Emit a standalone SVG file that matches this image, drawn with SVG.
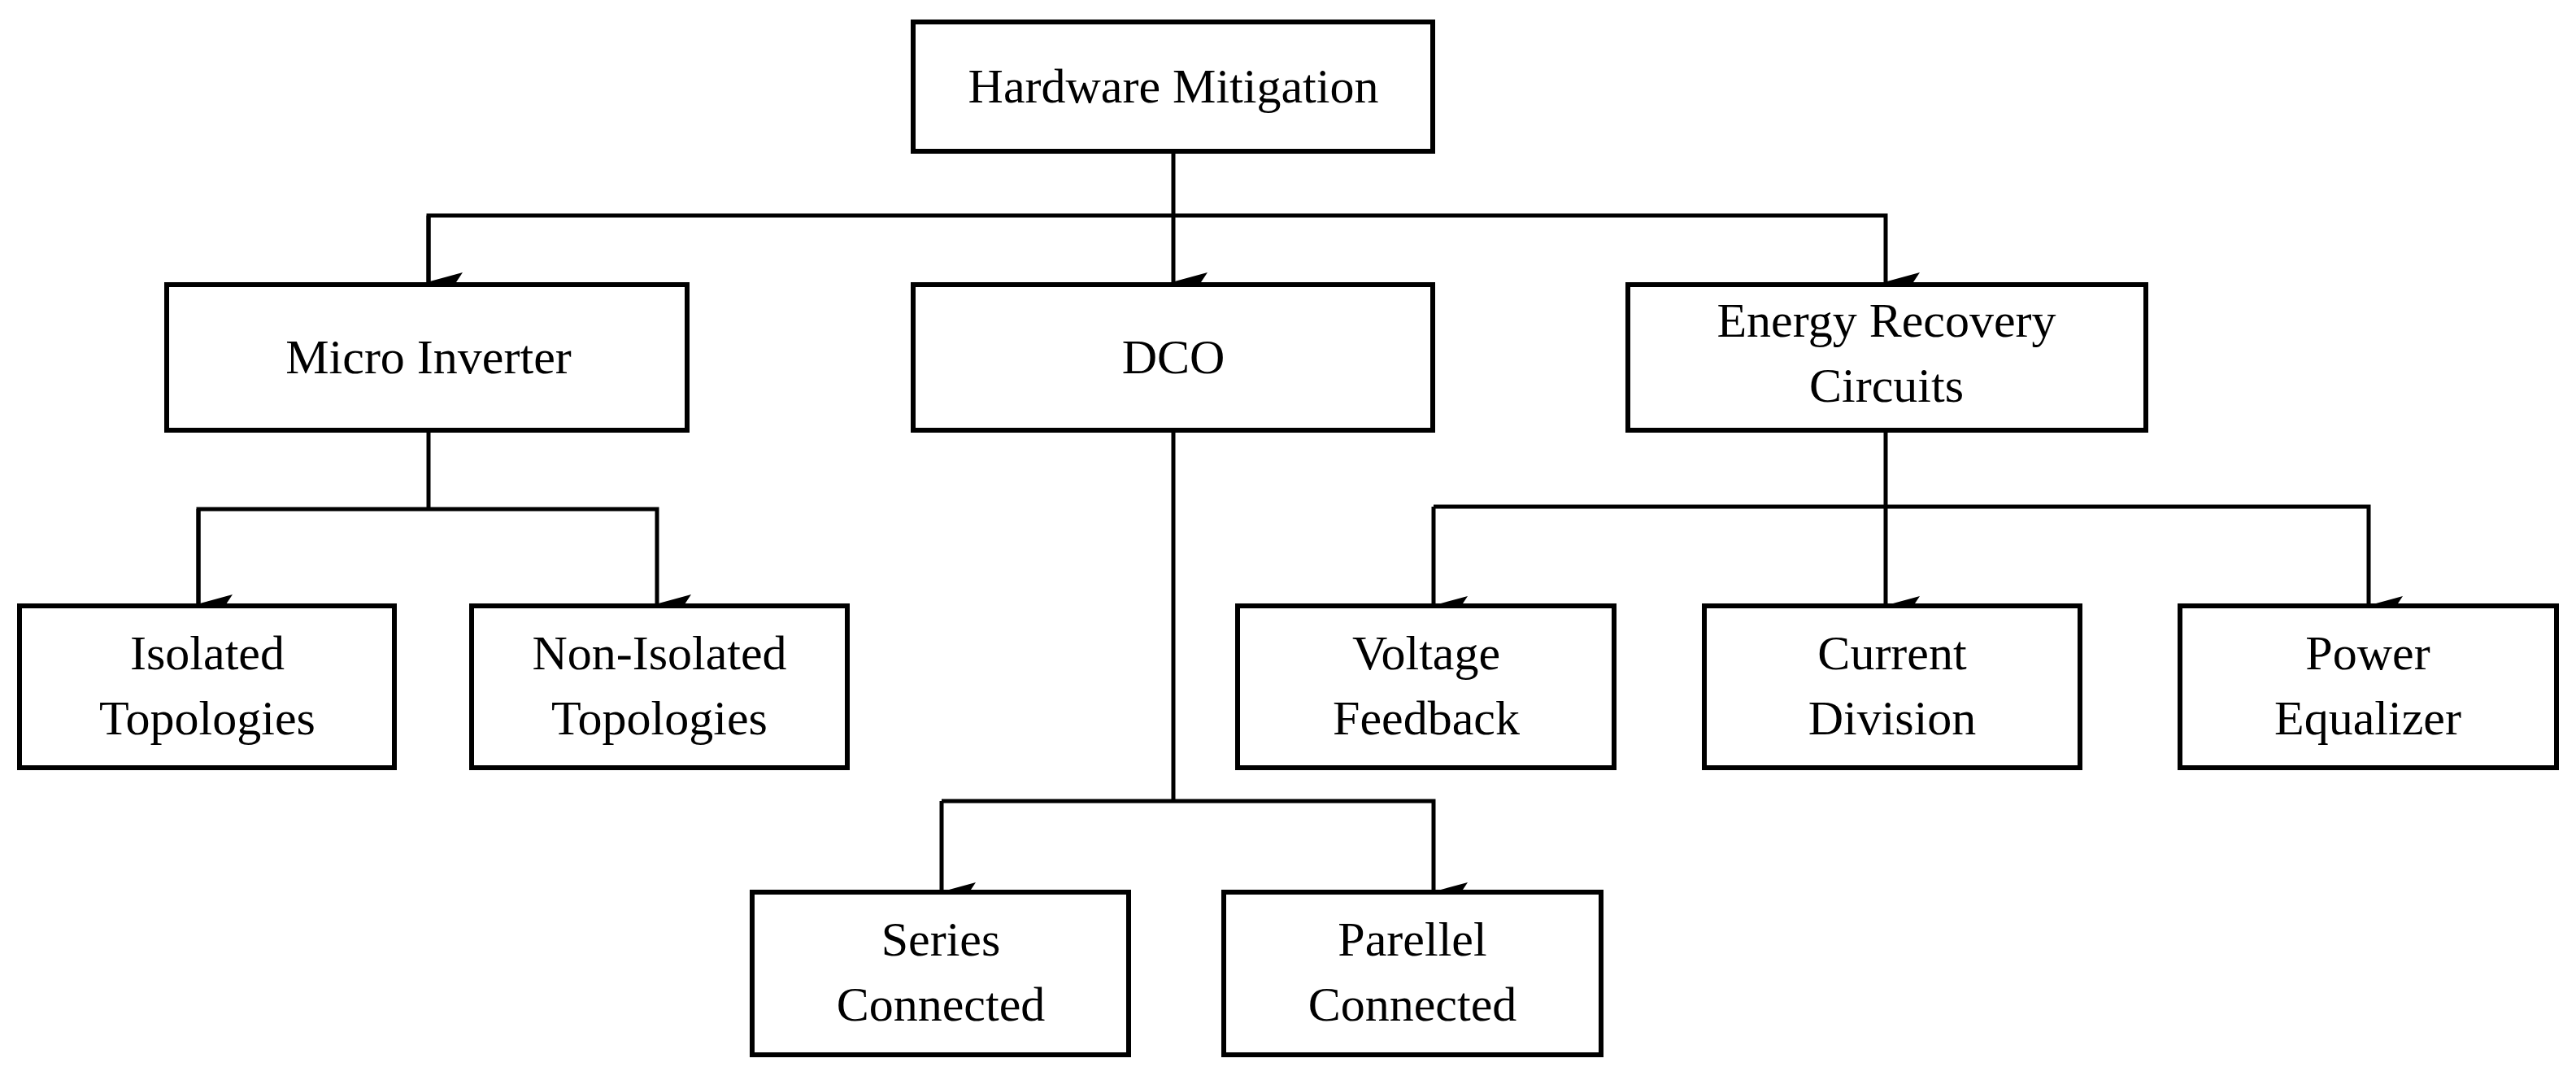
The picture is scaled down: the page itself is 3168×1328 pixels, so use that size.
<svg xmlns="http://www.w3.org/2000/svg" width="3168" height="1328" viewBox="0 0 3168 1328">
<style>
rect{fill:#fff;stroke:#000;stroke-width:6}
text{font-family:"Liberation Serif","Times New Roman",serif;font-size:60px;text-anchor:middle;fill:#000}
.c path{fill:none;stroke:#000;stroke-width:5}
</style>
<defs><marker id="a" markerUnits="userSpaceOnUse" markerWidth="24" markerHeight="44" refX="12" refY="42" orient="auto-start-reverse" viewBox="0 0 24 44"><path d="M0,0 L12,8 L24,0 L12,44 Z" fill="#000" transform="rotate(0)"/></marker></defs>
<g class="c">
<path d="M1443,186 V347" marker-end="url(#a)"/>
<path d="M527,347 V265 H2319 V347" marker-end="url(#a)"/>
<path d="M527,265 V347" marker-end="url(#a)"/>
<path d="M527,529 V626"/>
<path d="M244,743 V626 H808 V743" marker-end="url(#a)"/>
<path d="M244,626 V743" marker-end="url(#a)"/>
<path d="M1443,529 V985"/>
<path d="M1158,985 H1763 V1097" marker-end="url(#a)"/>
<path d="M1158,985 V1097" marker-end="url(#a)"/>
<path d="M2319,529 V745" marker-end="url(#a)"/>
<path d="M1763,623 H2913 V745" marker-end="url(#a)"/>
<path d="M1763,623 V745" marker-end="url(#a)"/>
</g>
<g id="hw"><rect x="1123" y="27" width="639" height="159"/><text x="1443" y="126">Hardware Mitigation</text></g>
<g id="mi"><rect x="205" y="350" width="640" height="179"/><text x="527" y="459">Micro Inverter</text></g>
<g id="dco"><rect x="1123" y="350" width="639" height="179"/><text x="1443" y="459">DCO</text></g>
<g id="erc"><rect x="2002" y="350" width="637" height="179"/><text x="2320" y="414">Energy Recovery</text><text x="2320" y="494">Circuits</text></g>
<g id="iso"><rect x="24" y="745" width="461" height="199"/><text x="255" y="823">Isolated</text><text x="255" y="903">Topologies</text></g>
<g id="niso"><rect x="580" y="745" width="462" height="199"/><text x="811" y="823">Non-Isolated</text><text x="811" y="903">Topologies</text></g>
<g id="vf"><rect x="1522" y="745" width="463" height="199"/><text x="1754" y="823">Voltage</text><text x="1754" y="903">Feedback</text></g>
<g id="cd"><rect x="2096" y="745" width="462" height="199"/><text x="2327" y="823">Current</text><text x="2327" y="903">Division</text></g>
<g id="pe"><rect x="2681" y="745" width="463" height="199"/><text x="2912" y="823">Power</text><text x="2912" y="903">Equalizer</text></g>
<g id="sc"><rect x="925" y="1097" width="463" height="200"/><text x="1157" y="1175">Series</text><text x="1157" y="1255">Connected</text></g>
<g id="pc"><rect x="1505" y="1097" width="464" height="200"/><text x="1737" y="1175">Parellel</text><text x="1737" y="1255">Connected</text></g>
</svg>
